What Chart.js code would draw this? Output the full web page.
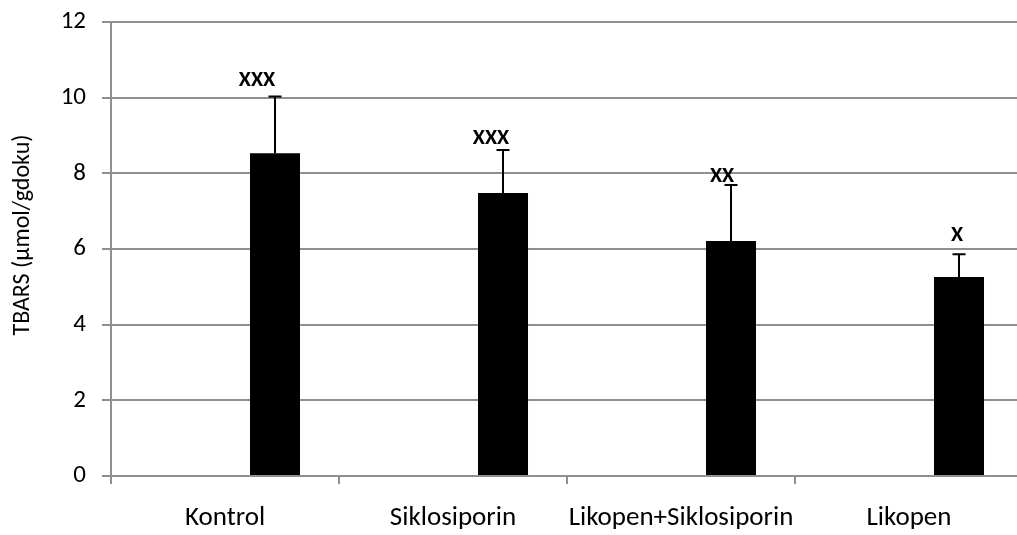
<!DOCTYPE html>
<html>
<head>
<meta charset="utf-8">
<script src="https://cdn.jsdelivr.net/npm/chart.js@4.4.1/dist/chart.umd.min.js"></script>
<style>
  html, body { margin: 0; padding: 0; background: #fff; overflow: hidden; }
  #wrap { position: relative; width: 1024px; height: 535px; }
</style>
</head>
<body>
<div id="wrap"><canvas id="tbarsChart"></canvas></div>
<script>
// TBARS levels per group, mean and standard deviation
const groups = ['Kontrol', 'Siklosiporin', 'Likopen+Siklosiporin', 'Likopen'];
const tbarsMean = [8.53, 7.48, 6.21, 5.26];
const tbarsSd = [1.50, 1.14, 1.48, 0.60];
const sigMarks = ['XXX', 'XXX', 'XX', 'X'];
const yTicks = [0, 2, 4, 6, 8, 10, 12];

const GRID = '#8f8f8f';
Chart.defaults.font.family = 'Carlito, Calibri, sans-serif';
Chart.defaults.color = '#000';

// error bars + significance marks on top of the visible series
const errorBarPlugin = {
  id: 'errorBars',
  afterDatasetsDraw(chart, args, opts) {
    const { ctx, scales: { y } } = chart;
    const meta = chart.getDatasetMeta(opts.datasetIndex);
    ctx.save();
    meta.data.forEach((bar, i) => {
      const top = y.getPixelForValue(tbarsMean[i] + tbarsSd[i]);
      ctx.strokeStyle = '#000';
      ctx.lineWidth = 2;
      ctx.beginPath();
      ctx.moveTo(bar.x, bar.y);
      ctx.lineTo(bar.x, top);
      ctx.moveTo(bar.x - 6.5, top);
      ctx.lineTo(bar.x + 6.5, top);
      ctx.stroke();

      const [dx, dy] = opts.markOffsets[i];
      ctx.fillStyle = '#000';
      ctx.font = 'bold 22px Carlito, Calibri, sans-serif';
      ctx.textAlign = 'center';
      ctx.textBaseline = 'middle';
      ctx.fillText(sigMarks[i], bar.x + dx, top + dy);
    });
    ctx.restore();
  }
};

// rotated y-axis title, nudged a little above the centre of the plot
const yTitlePlugin = {
  id: 'yTitle',
  afterDraw(chart, args, opts) {
    const { ctx, chartArea } = chart;
    ctx.save();
    ctx.translate(opts.x, (chartArea.top + chartArea.bottom) / 2 + opts.shift);
    ctx.rotate(-Math.PI / 2);
    ctx.font = '24px Carlito, Calibri, sans-serif';
    ctx.fillStyle = '#000';
    ctx.textAlign = 'center';
    ctx.textBaseline = 'middle';
    ctx.fillText(opts.text, 0, 0);
    ctx.restore();
  }
};

new Chart(document.getElementById('tbarsChart'), {
  type: 'bar',
  data: {
    labels: groups,
    datasets: [
      // two empty series keep the black bar in the right-hand slot
      { label: '', data: groups.map(() => null), backgroundColor: '#fff' },
      { label: '', data: groups.map(() => null), backgroundColor: '#fff' },
      { label: 'TBARS', data: tbarsMean, backgroundColor: '#000', borderWidth: 0 }
    ]
  },
  options: {
    responsive: true,
    maintainAspectRatio: false,
    animation: false,
    categoryPercentage: 0.658,
    barPercentage: 1,
    layout: { padding: { top: 22, right: 1, left: 0, bottom: 0 } },
    plugins: {
      legend: { display: false },
      tooltip: { enabled: false },
      errorBars: {
        datasetIndex: 2,
        markOffsets: [[-18, -16], [-12, -11], [-9, -9], [-2, -19]]
      },
      yTitle: { text: 'TBARS (µmol/gdoku)', x: 23, shift: -14 }
    },
    scales: {
      x: {
        grid: { offset: true, drawOnChartArea: false, tickLength: 8, color: GRID, lineWidth: 2 },
        border: { color: GRID, width: 2 },
        ticks: { font: { size: 27 }, padding: 18, maxRotation: 0, autoSkip: false },
        afterFit: scale => { scale.height = 59; }
      },
      y: {
        min: 0,
        max: 12,
        afterBuildTicks: scale => { scale.ticks = yTicks.map(v => ({ value: v })); },
        grid: { color: GRID, lineWidth: 2, tickLength: 9 },
        border: { color: GRID, width: 2 },
        ticks: { font: { size: 25 }, padding: 16 },
        afterFit: scale => {
          scale.width = 111;
          scale.paddingTop = 0;
          scale.paddingBottom = 0;
        }
      }
    }
  },
  plugins: [errorBarPlugin, yTitlePlugin]
});
</script>
</body>
</html>
